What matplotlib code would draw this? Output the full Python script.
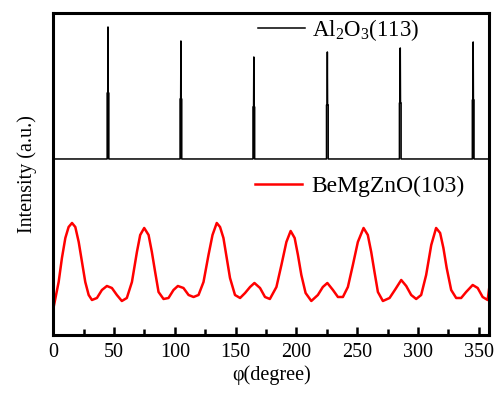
import numpy as np
import matplotlib
matplotlib.use("Agg")
import matplotlib.pyplot as plt

plt.rcParams["font.family"] = ["Liberation Serif", "DejaVu Serif"]
plt.rcParams["mathtext.fontset"] = "custom"
plt.rcParams["mathtext.rm"] = "Liberation Serif"
plt.rcParams["mathtext.it"] = "Liberation Serif:italic"
plt.rcParams["xtick.direction"] = "in"

# --- BeMgZnO(103) phi scan (arb. units) ---
phi_zno = [0, 0.3, 4.4, 7.1, 9.9, 12.6, 15.4, 18.1, 20.9, 23.6, 26.3, 29.1,
           31.8, 35.9, 40.0, 44.1, 48.2, 52.3, 56.4, 60.5, 64.7, 68.8, 71.5,
           74.8, 78.4, 81.1, 83.8, 86.6, 90.7, 94.8, 98.9, 102.5, 107.1,
           111.3, 115.4, 119.5, 123.6, 127.7, 131.0, 134.5, 137.2, 140.0,
           142.7, 145.4, 149.5, 153.7, 157.8, 161.9, 165.5, 170.1, 174.2,
           178.2, 183.6, 187.7, 191.8, 195.3, 198.6, 201.3, 204.1, 207.6,
           212.3, 217.7, 221.8, 225.5, 230.1, 234.2, 238.3, 242.4, 246.5,
           250.6, 255.3, 258.8, 261.6, 264.3, 267.1, 271.2, 276.7, 281.6,
           286.3, 290.4, 294.5, 298.6, 302.7, 306.8, 311.0, 315.0, 318.3,
           321.0, 323.7, 327.4, 331.5, 335.6, 339.7, 345.1, 349.2, 353.3,
           357.4, 358.8]
int_zno = [24, 27, 52, 76, 96, 107, 111, 107, 92, 72, 52, 39,
           34, 36, 44, 48, 46, 39, 33, 36, 52, 82, 99,
           106, 99, 82, 62, 42, 35, 36, 44, 48, 46,
           39, 37, 39, 52, 79, 99, 111, 107, 96,
           76, 56, 39, 36, 41, 47, 51, 46, 37,
           35, 47, 69, 92, 103, 96, 79, 59, 41,
           33, 39, 47, 51, 44, 37, 37, 47, 69,
           92, 106, 99, 82, 62, 42, 33, 36, 45,
           54, 48, 39, 35, 39, 59, 89, 106, 101,
           86, 66, 44, 36, 36, 42, 49, 46, 37,
           34, 47]

# --- Al2O3(113) phi scan: sharp substrate peaks on a flat baseline ---
al_base = 175
al_pos = [45.0, 105.0, 165.0, 225.5, 285.5, 345.5]
al_top = [307, 293, 277, 282, 286, 292]
al_mid = [241, 235, 227, 229, 231, 234]

xticks = [0, 50, 100, 150, 200, 250, 300, 350]
xminor = [25, 75, 125, 175, 225, 275, 325]


def al_trace():
    # narrow peak: broader foot up to the shoulder, thin spike above it
    xs, ys = [0.0], [al_base]
    for p, t, m in zip(al_pos, al_top, al_mid):
        xs += [p - 0.7, p - 0.7, p - 0.2, p, p + 0.2, p + 0.7, p + 0.7]
        ys += [al_base, m, m, t, m, m, al_base]
    xs.append(359.5)
    ys.append(al_base)
    return xs, ys


fig = plt.figure(figsize=(5.01, 3.93), dpi=100)
ax = fig.add_axes([0.1064, 0.1476, 0.8696, 0.8194])

xa, ya = al_trace()
l1, = ax.plot(xa, ya, color="black", lw=1.1)
ax.fill_between(xa, al_base, ya, where=np.array(ya) <= max(al_mid),
                color="black", lw=0)
l2, = ax.plot(phi_zno, int_zno, color="#ff0000", lw=1.8)

ax.set_xlim(0, 358.5)
ax.set_ylim(-1, 321)
ax.set_yticks([])
ax.set_xticks(xticks)
ax.set_xticks(xminor, minor=True)
ax.tick_params(axis="x", which="major", direction="in", length=6, width=1.8,
               labelsize=14.5, pad=6, top=False, color="black")
ax.tick_params(axis="x", which="minor", direction="in", length=4, width=1.8,
               top=False, bottom=True, color="black")
for s in ax.spines.values():
    s.set_linewidth(2.2)

ax.set_xlabel("\u03c6(degree)", fontsize=14.5, labelpad=2)
ax.set_ylabel("Intensity (a.u.)", fontsize=14.5, labelpad=12)

leg1 = ax.legend([l1], ["Al$_2$O$_3$(113)"], loc="center left",
                 bbox_to_anchor=(258 / 501, 1 - 30 / 393),
                 bbox_transform=fig.transFigure, frameon=False, fontsize=16.5,
                 handlelength=2.05, handletextpad=0.3, borderpad=0,
                 borderaxespad=0)
ax.add_artist(leg1)
ax.legend([l2], ["BeMgZnO(103)"], loc="center left",
          bbox_to_anchor=(255 / 501, 1 - 186 / 393),
          bbox_transform=fig.transFigure, frameon=False, fontsize=17,
          handlelength=2.0, handletextpad=0.4, borderpad=0, borderaxespad=0)

fig.savefig("out.png", dpi=100)
